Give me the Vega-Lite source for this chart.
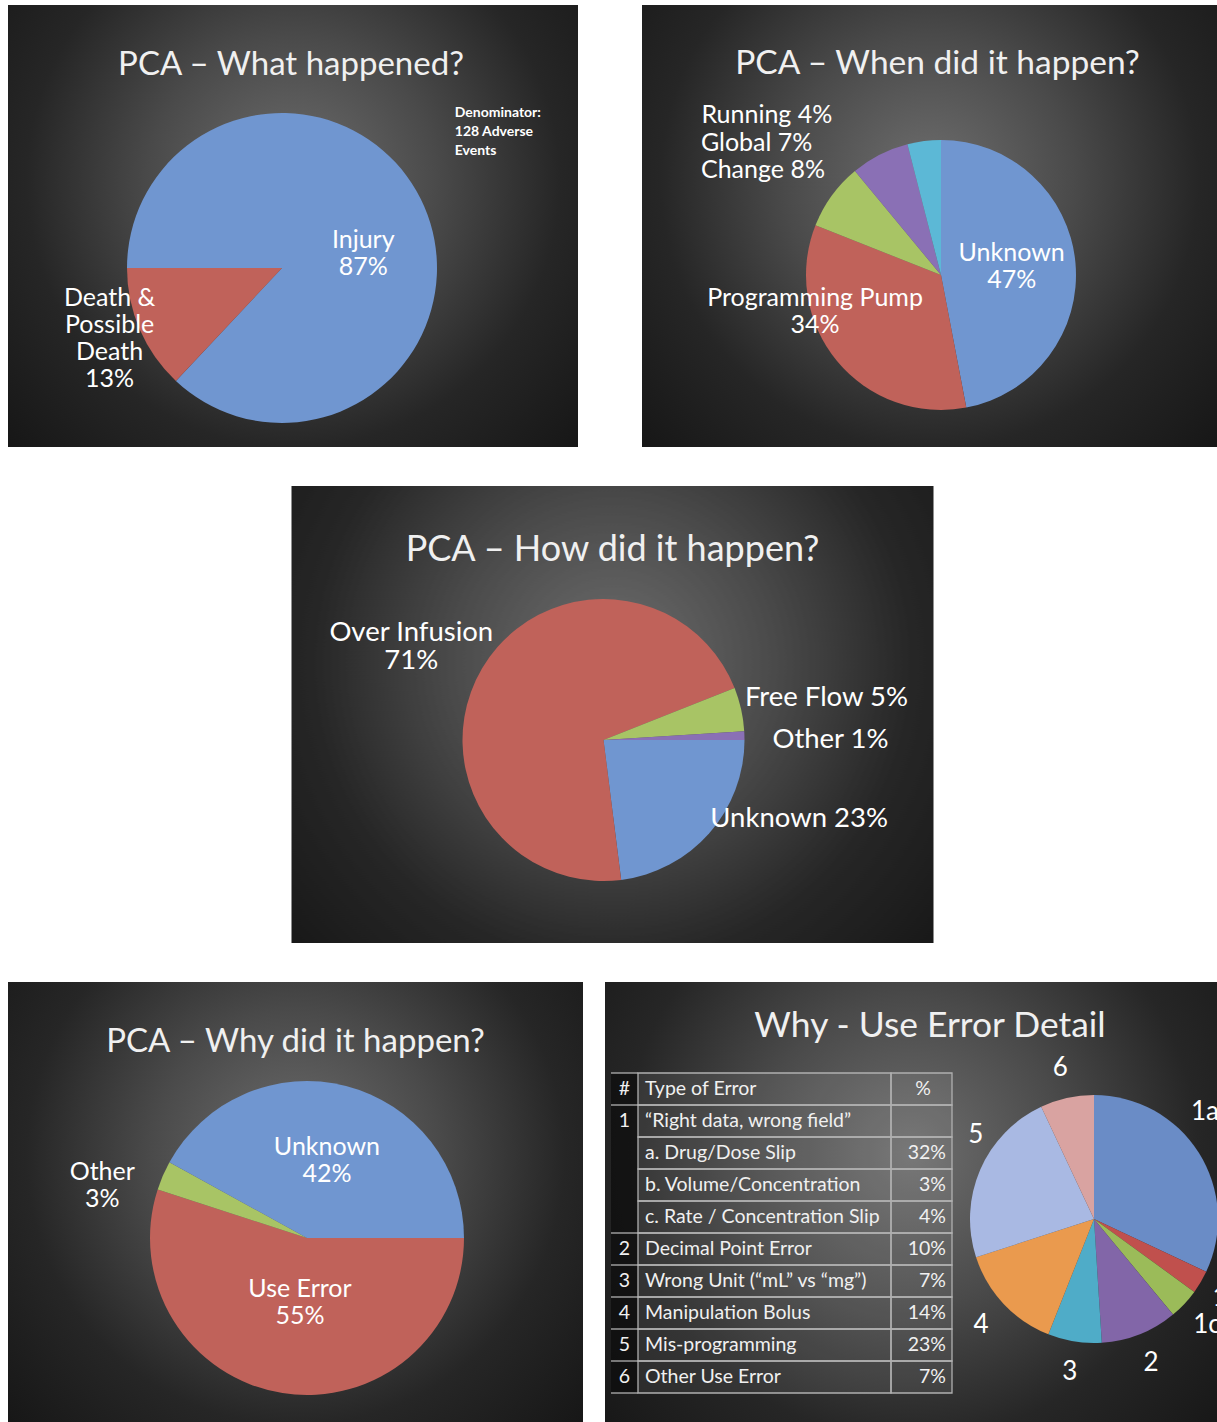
{
  "$schema": "https://vega.github.io/schema/vega-lite/v6.json",
  "padding": {"left": 8, "top": 5, "right": 0, "bottom": 0},
  "background": "#ffffff",
  "spacing": 39,
  "center": true,
  "resolve": {"scale": {"color": "independent", "theta": "independent"}},
  "datasets": {
    "bg": [{"panel": "slide"}],
    "what": [
      {"k": 1, "cat": "Injury", "pct": 87, "label": "Injury\n87%"},
      {"k": 2, "cat": "Death & Possible Death", "pct": 13, "label": "Death &\nPossible\nDeath\n13%"}
    ],
    "note": [{"note": "Denominator:\n128 Adverse\nEvents"}],
    "when": [
      {"k": 1, "cat": "Unknown", "pct": 47, "label": "Unknown\n47%"},
      {"k": 2, "cat": "Programming Pump", "pct": 34, "label": "Programming Pump\n34%"},
      {"k": 3, "cat": "Change", "pct": 8, "label": "Change 8%"},
      {"k": 4, "cat": "Global", "pct": 7, "label": "Global 7%"},
      {"k": 5, "cat": "Running", "pct": 4, "label": "Running 4%"}
    ],
    "how": [
      {"k": 1, "cat": "Unknown", "pct": 23, "label": "Unknown 23%"},
      {"k": 2, "cat": "Over Infusion", "pct": 71, "label": "Over Infusion\n71%"},
      {"k": 3, "cat": "Free Flow", "pct": 5, "label": "Free Flow 5%"},
      {"k": 4, "cat": "Other", "pct": 1, "label": "Other 1%"}
    ],
    "why": [
      {"k": 1, "cat": "Use Error", "pct": 55, "label": "Use Error\n55%"},
      {"k": 2, "cat": "Other", "pct": 3, "label": "Other\n3%"},
      {"k": 3, "cat": "Unknown", "pct": 42, "label": "Unknown\n42%"}
    ],
    "detail": [
      {"k": 1, "cat": "1a", "pct": 32},
      {"k": 2, "cat": "1b", "pct": 3},
      {"k": 3, "cat": "1c", "pct": 4},
      {"k": 4, "cat": "2", "pct": 10},
      {"k": 5, "cat": "3", "pct": 7},
      {"k": 6, "cat": "4", "pct": 14},
      {"k": 7, "cat": "5", "pct": 23},
      {"k": 8, "cat": "6", "pct": 7}
    ],
    "table": [
      {"row": 1, "num": "#", "type": "Type of Error", "pct": "%"},
      {"row": 2, "num": "1", "type": "“Right data, wrong field”", "pct": ""},
      {"row": 3, "num": "", "type": "a.  Drug/Dose Slip", "pct": "32%"},
      {"row": 4, "num": "", "type": "b.  Volume/Concentration", "pct": "3%"},
      {"row": 5, "num": "", "type": "c.  Rate / Concentration Slip", "pct": "4%"},
      {"row": 6, "num": "2", "type": "Decimal Point Error", "pct": "10%"},
      {"row": 7, "num": "3", "type": "Wrong Unit (“mL” vs “mg”)", "pct": "7%"},
      {"row": 8, "num": "4", "type": "Manipulation Bolus", "pct": "14%"},
      {"row": 9, "num": "5", "type": "Mis-programming", "pct": "23%"},
      {"row": 10, "num": "6", "type": "Other Use Error", "pct": "7%"}
    ]
  },
  "config": {
    "view": {"stroke": null},
    "title": {"font": "Lato", "fontSize": 33, "color": "#f0f0f0", "fontWeight": "normal", "anchor": "middle", "frame": "group", "baseline": "middle"},
    "text": {"font": "Lato", "fontSize": 25, "color": "#ffffff", "lineBreak": "\n", "lineHeight": 27, "align": "center", "baseline": "middle", "clip": true},
    "arc": {"stroke": null},
    "rect": {"stroke": null}
  },
  "vconcat": [
    {
      "hconcat": [
        {
          "width": 570, "height": 442,
          "title": {"text": "PCA – What happened?", "offset": -77, "dx": -2, "fontSize": 33},
          "layer": [
            {
              "data": {"name": "bg"},
              "mark": {"type": "rect", "fill": {"gradient": "radial", "x1": 0.5, "y1": 0.42, "r1": 0, "x2": 0.5, "y2": 0.42, "r2": 0.72, "stops": [{"offset": 0, "color": "#6e6e6e"}, {"offset": 0.35, "color": "#4a4a4a"}, {"offset": 0.65, "color": "#262626"}, {"offset": 1, "color": "#141414"}]}}
            },
            {
              "data": {"name": "what"},
              "mark": {"type": "arc", "outerRadius": 155, "x": 274, "y": 263},
              "encoding": {
                "theta": {"field": "pct", "type": "quantitative", "stack": true, "scale": {"range": [4.712389, 10.995574]}},
                "color": {"field": "cat", "type": "nominal", "legend": null, "scale": {"domain": ["Injury", "Death & Possible Death"], "range": ["#7096D0", "#C0625A"]}},
                "order": {"field": "k", "type": "quantitative"}
              }
            },
            {
              "data": {"name": "what"},
              "mark": {"type": "text", "clip": true, "radius": 86, "thetaOffset": 0.075, "x": 274, "y": 263},
              "encoding": {
                "theta": {"field": "pct", "type": "quantitative", "stack": true},
                "order": {"field": "k", "type": "quantitative"},
                "text": {"condition": {"test": "datum.k === 1", "field": "label"}, "value": ""}
              }
            },
            {
              "data": {"name": "what"},
              "mark": {"type": "text", "clip": true, "radius": 175, "thetaOffset": 0.236, "x": 274, "y": 263},
              "encoding": {
                "theta": {"field": "pct", "type": "quantitative", "stack": true},
                "order": {"field": "k", "type": "quantitative"},
                "text": {"condition": {"test": "datum.k === 2", "field": "label"}, "value": ""}
              }
            },
            {
              "data": {"name": "note"},
              "mark": {"type": "text", "clip": true, "align": "left", "fontSize": 14, "fontWeight": "bold", "lineHeight": 19, "radius": 232, "theta": 0.84, "x": 274, "y": 263},
              "encoding": {"text": {"field": "note"}}
            }
          ]
        },
        {
          "width": 575, "height": 442,
          "title": {"text": "PCA – When did it happen?", "offset": -76, "dx": 8, "fontSize": 33.5},
          "layer": [
            {
              "data": {"name": "bg"},
              "mark": {"type": "rect", "fill": {"gradient": "radial", "x1": 0.5, "y1": 0.42, "r1": 0, "x2": 0.5, "y2": 0.42, "r2": 0.72, "stops": [{"offset": 0, "color": "#6e6e6e"}, {"offset": 0.35, "color": "#4a4a4a"}, {"offset": 0.65, "color": "#262626"}, {"offset": 1, "color": "#141414"}]}}
            },
            {
              "data": {"name": "when"},
              "mark": {"type": "arc", "outerRadius": 135, "x": 299, "y": 270},
              "encoding": {
                "theta": {"field": "pct", "type": "quantitative", "stack": true, "scale": {"range": [0, 6.283185]}},
                "color": {"field": "cat", "type": "nominal", "legend": null, "scale": {"domain": ["Unknown", "Programming Pump", "Change", "Global", "Running"], "range": ["#7096D0", "#C0625A", "#A8C465", "#8A70B5", "#5CB8D6"]}},
                "order": {"field": "k", "type": "quantitative"}
              }
            },
            {
              "data": {"name": "when"},
              "mark": {"type": "text", "clip": true, "radius": 74, "thetaOffset": -0.206, "x": 299, "y": 270},
              "encoding": {
                "theta": {"field": "pct", "type": "quantitative", "stack": true},
                "order": {"field": "k", "type": "quantitative"},
                "text": {"condition": {"test": "datum.k === 1", "field": "label"}, "value": ""}
              }
            },
            {
              "data": {"name": "when"},
              "mark": {"type": "text", "clip": true, "radius": 128, "thetaOffset": 0.511, "x": 299, "y": 270},
              "encoding": {
                "theta": {"field": "pct", "type": "quantitative", "stack": true},
                "order": {"field": "k", "type": "quantitative"},
                "text": {"condition": {"test": "datum.k === 2", "field": "label"}, "value": ""}
              }
            },
            {
              "data": {"name": "when"},
              "mark": {"type": "text", "clip": true, "align": "left", "radius": 262, "thetaOffset": -0.216, "x": 299, "y": 270},
              "encoding": {
                "theta": {"field": "pct", "type": "quantitative", "stack": true},
                "order": {"field": "k", "type": "quantitative"},
                "text": {"condition": {"test": "datum.k === 3", "field": "label"}, "value": ""}
              }
            },
            {
              "data": {"name": "when"},
              "mark": {"type": "text", "clip": true, "align": "left", "radius": 274, "thetaOffset": -0.597, "x": 299, "y": 270},
              "encoding": {
                "theta": {"field": "pct", "type": "quantitative", "stack": true},
                "order": {"field": "k", "type": "quantitative"},
                "text": {"condition": {"test": "datum.k === 4", "field": "label"}, "value": ""}
              }
            },
            {
              "data": {"name": "when"},
              "mark": {"type": "text", "clip": true, "align": "left", "radius": 288, "thetaOffset": -0.857, "x": 299, "y": 270},
              "encoding": {
                "theta": {"field": "pct", "type": "quantitative", "stack": true},
                "order": {"field": "k", "type": "quantitative"},
                "text": {"condition": {"test": "datum.k === 5", "field": "label"}, "value": ""}
              }
            }
          ]
        }
      ],
      "spacing": 64,
      "bounds": "flush",
      "resolve": {"scale": {"color": "independent", "theta": "independent"}}
    },
    {
      "width": 642, "height": 457,
      "title": {"text": "PCA – How did it happen?", "offset": -83, "fontSize": 36},
      "layer": [
        {
          "data": {"name": "bg"},
          "mark": {"type": "rect", "fill": {"gradient": "radial", "x1": 0.5, "y1": 0.42, "r1": 0, "x2": 0.5, "y2": 0.42, "r2": 0.72, "stops": [{"offset": 0, "color": "#6e6e6e"}, {"offset": 0.35, "color": "#4a4a4a"}, {"offset": 0.65, "color": "#262626"}, {"offset": 1, "color": "#141414"}]}}
        },
        {
          "data": {"name": "how"},
          "mark": {"type": "arc", "outerRadius": 141, "x": 312, "y": 254},
          "encoding": {
            "theta": {"field": "pct", "type": "quantitative", "stack": true, "scale": {"range": [1.570796, 7.853982]}},
            "color": {"field": "cat", "type": "nominal", "legend": null, "scale": {"domain": ["Unknown", "Over Infusion", "Free Flow", "Other"], "range": ["#7096D0", "#C0625A", "#A8C465", "#8A70B5"]}},
            "order": {"field": "k", "type": "quantitative"}
          }
        },
        {
          "data": {"name": "how"},
          "mark": {"type": "text", "clip": true, "fontSize": 27.5, "lineHeight": 28.5, "radius": 220, "thetaOffset": -0.026, "x": 312, "y": 254},
          "encoding": {
            "theta": {"field": "pct", "type": "quantitative", "stack": true},
            "order": {"field": "k", "type": "quantitative"},
            "text": {"condition": {"test": "datum.k === 2", "field": "label"}, "value": ""}
          }
        },
        {
          "data": {"name": "how"},
          "mark": {"type": "text", "clip": true, "fontSize": 27.5, "radius": 227, "thetaOffset": 0.032, "x": 312, "y": 254},
          "encoding": {
            "theta": {"field": "pct", "type": "quantitative", "stack": true},
            "order": {"field": "k", "type": "quantitative"},
            "text": {"condition": {"test": "datum.k === 3 || datum.k === 4", "field": "label"}, "value": ""}
          }
        },
        {
          "data": {"name": "how"},
          "mark": {"type": "text", "clip": true, "fontSize": 27.5, "radius": 211, "thetaOffset": -0.339, "x": 312, "y": 254},
          "encoding": {
            "theta": {"field": "pct", "type": "quantitative", "stack": true},
            "order": {"field": "k", "type": "quantitative"},
            "text": {"condition": {"test": "datum.k === 1", "field": "label"}, "value": ""}
          }
        }
      ]
    },
    {
      "hconcat": [
        {
          "width": 575, "height": 440,
          "title": {"text": "PCA – Why did it happen?", "offset": -77, "fontSize": 33},
          "layer": [
            {
              "data": {"name": "bg"},
              "mark": {"type": "rect", "fill": {"gradient": "radial", "x1": 0.5, "y1": 0.42, "r1": 0, "x2": 0.5, "y2": 0.42, "r2": 0.72, "stops": [{"offset": 0, "color": "#6e6e6e"}, {"offset": 0.35, "color": "#4a4a4a"}, {"offset": 0.65, "color": "#262626"}, {"offset": 1, "color": "#141414"}]}}
            },
            {
              "data": {"name": "why"},
              "mark": {"type": "arc", "outerRadius": 157, "x": 299, "y": 256},
              "encoding": {
                "theta": {"field": "pct", "type": "quantitative", "stack": true, "scale": {"range": [1.570796, 7.853982]}},
                "color": {"field": "cat", "type": "nominal", "legend": null, "scale": {"domain": ["Use Error", "Other", "Unknown"], "range": ["#C0625A", "#A8C465", "#7096D0"]}},
                "order": {"field": "k", "type": "quantitative"}
              }
            },
            {
              "data": {"name": "why"},
              "mark": {"type": "text", "clip": true, "radius": 93, "thetaOffset": -0.035, "x": 299, "y": 256},
              "encoding": {
                "theta": {"field": "pct", "type": "quantitative", "stack": true},
                "order": {"field": "k", "type": "quantitative"},
                "text": {"condition": {"test": "datum.k === 3", "field": "label"}, "value": ""}
              }
            },
            {
              "data": {"name": "why"},
              "mark": {"type": "text", "clip": true, "radius": 51.5, "thetaOffset": -0.02, "x": 299, "y": 256},
              "encoding": {
                "theta": {"field": "pct", "type": "quantitative", "stack": true},
                "order": {"field": "k", "type": "quantitative"},
                "text": {"condition": {"test": "datum.k === 1", "field": "label"}, "value": ""}
              }
            },
            {
              "data": {"name": "why"},
              "mark": {"type": "text", "clip": true, "radius": 215, "thetaOffset": -0.098, "x": 299, "y": 256},
              "encoding": {
                "theta": {"field": "pct", "type": "quantitative", "stack": true},
                "order": {"field": "k", "type": "quantitative"},
                "text": {"condition": {"test": "datum.k === 2", "field": "label"}, "value": ""}
              }
            }
          ]
        },
        {
          "width": 612, "height": 440,
          "title": {"text": "Why - Use Error Detail", "offset": -62, "dx": 19, "fontSize": 35.4},
          "layer": [
            {
              "data": {"name": "bg"},
              "mark": {"type": "rect", "fill": {"gradient": "radial", "x1": 0.5, "y1": 0.42, "r1": 0, "x2": 0.5, "y2": 0.42, "r2": 0.72, "stops": [{"offset": 0, "color": "#6e6e6e"}, {"offset": 0.35, "color": "#4a4a4a"}, {"offset": 0.65, "color": "#262626"}, {"offset": 1, "color": "#141414"}]}},
              "encoding": {
                "x": {"datum": 0, "type": "quantitative", "axis": null, "scale": {"domain": [0, 612], "nice": false, "zero": false}},
                "x2": {"datum": 612}
              }
            },
            {
              "data": {"name": "table"},
              "mark": {"type": "rect", "fill": "#0b0b0b", "fillOpacity": 0.7},
              "encoding": {
                "x": {"datum": 6, "type": "quantitative", "axis": null},
                "x2": {"datum": 33},
                "y": {"field": "row", "type": "ordinal", "axis": null, "scale": {"range": [91, 411], "paddingInner": 0, "paddingOuter": 0}}
              }
            },
            {
              "data": {"name": "table"},
              "mark": {"type": "rect", "fill": "#ffffff", "fillOpacity": 0.07, "stroke": "#b0b0b0", "strokeWidth": 1.3},
              "encoding": {
                "x": {"datum": 33, "type": "quantitative", "axis": null},
                "x2": {"datum": 286},
                "y": {"field": "row", "type": "ordinal", "axis": null}
              }
            },
            {
              "data": {"name": "table"},
              "mark": {"type": "rect", "fill": "#ffffff", "fillOpacity": 0.07, "stroke": "#b0b0b0", "strokeWidth": 1.3},
              "encoding": {
                "x": {"datum": 286, "type": "quantitative", "axis": null},
                "x2": {"datum": 347},
                "y": {"field": "row", "type": "ordinal", "axis": null}
              }
            },
            {
              "data": {"name": "table"},
              "mark": {"type": "rule", "stroke": "#b0b0b0", "strokeWidth": 1.3},
              "encoding": {
                "x": {"datum": 6, "type": "quantitative", "axis": null},
                "x2": {"datum": 33},
                "y": {"field": "row", "type": "ordinal", "bandPosition": 0, "axis": null},
                "opacity": {"condition": {"test": "datum.num === ''", "value": 0}, "value": 1}
              }
            },
            {
              "data": {"name": "table"},
              "mark": {"type": "rule", "stroke": "#b0b0b0", "strokeWidth": 1.3},
              "encoding": {
                "x": {"datum": 6, "type": "quantitative", "axis": null},
                "x2": {"datum": 33},
                "y": {"field": "row", "type": "ordinal", "bandPosition": 1, "axis": null},
                "opacity": {"condition": {"test": "datum.row === 10", "value": 1}, "value": 0}
              }
            },
            {
              "data": {"name": "table"},
              "mark": {"type": "text", "fontSize": 19.5, "color": "#f0f0f0", "align": "center"},
              "encoding": {
                "x": {"datum": 19.5, "type": "quantitative", "axis": null},
                "y": {"field": "row", "type": "ordinal", "axis": null},
                "text": {"field": "num"}
              }
            },
            {
              "data": {"name": "table"},
              "mark": {"type": "text", "fontSize": 19.5, "color": "#f0f0f0", "align": "left"},
              "encoding": {
                "x": {"datum": 40, "type": "quantitative", "axis": null},
                "y": {"field": "row", "type": "ordinal", "axis": null},
                "text": {"field": "type"}
              }
            },
            {
              "data": {"name": "table"},
              "mark": {"type": "text", "fontSize": 19.5, "color": "#f0f0f0", "align": "right"},
              "encoding": {
                "x": {"datum": 341, "type": "quantitative", "axis": null},
                "y": {"field": "row", "type": "ordinal", "axis": null},
                "text": {"condition": {"test": "datum.row !== 1", "field": "pct"}, "value": ""}
              }
            },
            {
              "data": {"name": "table"},
              "mark": {"type": "text", "fontSize": 19.5, "color": "#f0f0f0", "align": "center"},
              "encoding": {
                "x": {"datum": 318, "type": "quantitative", "axis": null},
                "y": {"field": "row", "type": "ordinal", "axis": null},
                "text": {"condition": {"test": "datum.row === 1", "field": "pct"}, "value": ""}
              }
            },
            {
              "data": {"name": "detail"},
              "mark": {"type": "arc", "outerRadius": 124, "x": 489, "y": 237, "clip": true},
              "encoding": {
                "theta": {"field": "pct", "type": "quantitative", "stack": true, "scale": {"range": [0, 6.283185]}},
                "color": {"field": "cat", "type": "nominal", "legend": null, "scale": {"domain": ["1a", "1b", "1c", "2", "3", "4", "5", "6"], "range": ["#6A8CC6", "#C0504D", "#9BBB59", "#8266A8", "#4FACC8", "#EA9A4E", "#A9B9E3", "#D9A3A1"]}},
                "order": {"field": "k", "type": "quantitative"}
              }
            },
            {
              "data": {"name": "detail"},
              "mark": {"type": "text", "fontSize": 26, "radius": 155, "x": 489, "y": 237, "clip": true},
              "encoding": {
                "theta": {"field": "pct", "type": "quantitative", "stack": true},
                "order": {"field": "k", "type": "quantitative"},
                "text": {"condition": {"test": "datum.k !== 1 && datum.k !== 7", "field": "cat"}, "value": ""}
              }
            },
            {
              "data": {"name": "detail"},
              "mark": {"type": "text", "fontSize": 26, "radius": 154, "thetaOffset": -0.2, "x": 489, "y": 237, "clip": true},
              "encoding": {
                "theta": {"field": "pct", "type": "quantitative", "stack": true},
                "order": {"field": "k", "type": "quantitative"},
                "text": {"condition": {"test": "datum.k === 1", "field": "cat"}, "value": ""}
              }
            },
            {
              "data": {"name": "detail"},
              "mark": {"type": "text", "fontSize": 26, "radius": 145, "thetaOffset": 0.21, "x": 489, "y": 237, "clip": true},
              "encoding": {
                "theta": {"field": "pct", "type": "quantitative", "stack": true},
                "order": {"field": "k", "type": "quantitative"},
                "text": {"condition": {"test": "datum.k === 7", "field": "cat"}, "value": ""}
              }
            }
          ]
        }
      ],
      "spacing": 22,
      "bounds": "flush",
      "resolve": {"scale": {"color": "independent", "theta": "independent"}}
    }
  ]
}
